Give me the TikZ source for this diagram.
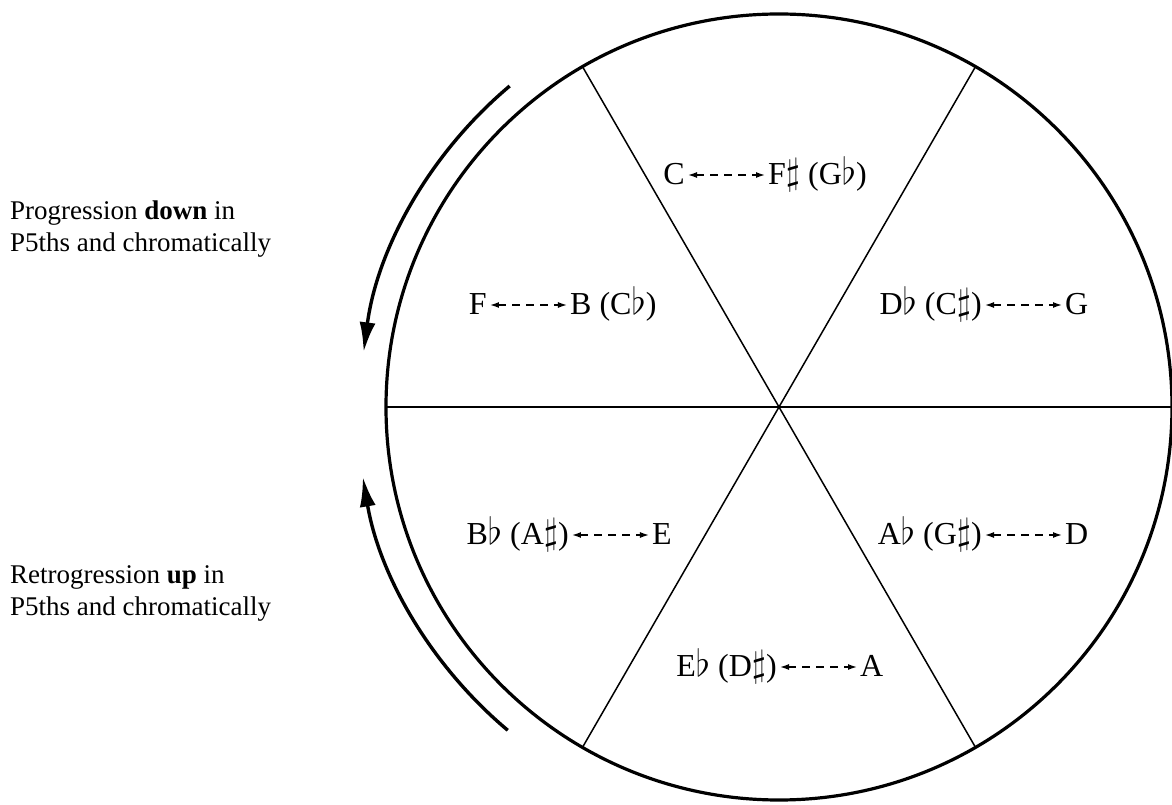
\documentclass[tikz,border=0pt]{standalone}
\usepackage{graphicx}
\usepackage{fontspec}
\setmainfont{Liberation Serif}
\usetikzlibrary{positioning,arrows.meta}

\newcommand{\flt}{\scalebox{1.5}{\fontsize{24.88}{25}\selectfont$\flat$}}
\newcommand{\shp}{\scalebox{1.5}{\fontsize{24.88}{25}\selectfont$\sharp$}}

\begin{document}
\begin{tikzpicture}[
  x=1pt, y=1pt,
  ring/.style={line width=3.2pt},
  spoke/.style={line width=1.5pt},
  turn/.style={line width=3.4pt, -{Latex[length=30pt,width=16pt]}},
  tone/.style={font=\fontsize{32}{36}\selectfont, inner sep=3pt,
               text height=24pt, text depth=5pt},
  link/.style={{Latex[length=9pt,width=6pt]}-{Latex[length=9pt,width=6pt]},
               dash pattern=on 8pt off 6pt, line width=1.4pt},
  side/.style={font=\fontsize{27}{32}\selectfont, align=left, anchor=west, inner sep=3pt},
  node distance=77pt,
]
  \useasboundingbox (-779,-398) rectangle (393,407);

  % circle and its six sectors
  \draw[ring] (0,0) circle[radius=393];
  \draw[spoke] (180:393) -- (0:393);
  \draw[spoke] (120:393) -- (300:393);
  \draw[spoke] (60:393) -- (240:393);

  % tritone pairs
  \node[tone, anchor=east] (c) at (-91,232) {C};
  \node[tone, right=of c] (fs) {F\shp\ (G\flt)};
  \draw[link] (c) -- (fs);

  \node[tone, anchor=east] (f) at (-289,102) {F};
  \node[tone, right=of f] (b) {B (C\flt)};
  \draw[link] (f) -- (b);

  \node[tone, anchor=east] (db) at (206,102) {D\flt\ (C\shp)};
  \node[tone, right=of db] (g) {G};
  \draw[link] (db) -- (g);

  \node[tone, anchor=east] (bb) at (-207,-128) {B\flt\ (A\shp)};
  \node[tone, right=of bb] (e) {E};
  \draw[link] (bb) -- (e);

  \node[tone, anchor=east] (ab) at (206,-128) {A\flt\ (G\shp)};
  \node[tone, right=of ab] (d) {D};
  \draw[link] (ab) -- (d);

  \node[tone, anchor=east] (eb) at (1,-260) {E\flt\ (D\shp)};
  \node[tone, right=of eb] (a) {A};
  \draw[link] (eb) -- (a);

  % direction arrows
  \draw[turn] (130:419) arc[start angle=130, end angle=172.5, radius=419];
  \draw[turn] (230:422) arc[start angle=230, end angle=189.5, radius=422];

  \node[side] (down) at (-772,178) {Progression \textbf{down} in\\P5ths and chromatically};
  \node[side] (up) at (-772,-186) {Retrogression \textbf{up} in\\P5ths and chromatically};
\end{tikzpicture}
\end{document}
